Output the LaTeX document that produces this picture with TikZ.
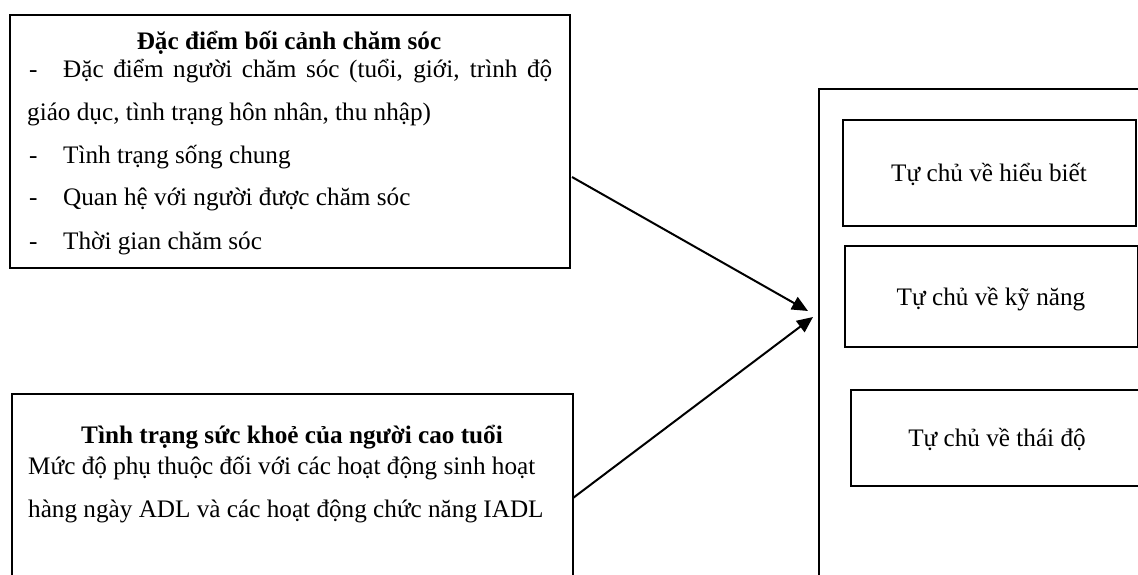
\documentclass[tikz,border=0pt]{standalone}
\usepackage{fontspec}
\setmainfont{Liberation Serif}
\usetikzlibrary{arrows.meta,calc}
\begin{document}
\begin{tikzpicture}[x=1pt,y=-1pt,
  frame/.style={draw, line width=2pt, rectangle, inner sep=0pt, anchor=north west},
  txt/.style={inner sep=0pt, font=\fontsize{25.2}{29}\selectfont},
  head/.style={txt, anchor=base, font=\fontsize{25.2}{29}\selectfont\bfseries},
  flow/.style={line width=2pt, -{Triangle[length=16pt,width=14pt]}}]
\useasboundingbox (0,0) rectangle (1138,574);

% left-hand boxes
\node[frame, minimum width=560pt, minimum height=253pt] (ctx) at (9,14) {};
\node[frame, minimum width=561pt, minimum height=200pt] (hlth) at (11,393) {};

% right-hand container and its three items
\node[frame, minimum width=340pt, minimum height=510pt] (auto) at (818,88) {};
\node[frame, minimum width=293pt, minimum height=106pt] (know) at (842,119) {};
\node[frame, minimum width=293pt, minimum height=101pt] (skill) at (844,245) {};
\node[frame, minimum width=300pt, minimum height=96pt] (att) at (850,389) {};

% text of the context box
\node[head] (ctxT) at (289,49) {Đặc điểm bối cảnh chăm sóc};
\node[txt, anchor=base west] (d1) at (29,77) {-};
\node[txt, anchor=base west] (l1) at (63,77) {\makebox[489pt][s]{Đặc điểm người chăm sóc (tuổi, giới, trình độ}};
\node[txt, anchor=base west] (l2) at (27,120) {giáo dục, tình trạng hôn nhân, thu nhập)};
\node[txt, anchor=base west] (d3) at (29,163) {-};
\node[txt, anchor=base west] (l3) at (63,163) {Tình trạng sống chung};
\node[txt, anchor=base west] (d4) at (29,205) {-};
\node[txt, anchor=base west] (l4) at (63,205) {Quan hệ với người được chăm sóc};
\node[txt, anchor=base west] (d5) at (29,249) {-};
\node[txt, anchor=base west] (l5) at (63,249) {Thời gian chăm sóc};

% text of the health box
\node[head] (hlthT) at (292,443) {Tình trạng sức khoẻ của người cao tuổi};
\node[txt, anchor=base west] (h1) at (28,474) {Mức độ phụ thuộc đối với các hoạt động sinh hoạt};
\node[txt, anchor=base west] (h2) at (28,517) {hàng ngày ADL và các hoạt động chức năng IADL};

% item labels
\node[txt, anchor=base] (knowT) at (989,181) {Tự chủ về hiểu biết};
\node[txt, anchor=base] (skillT) at (991,305) {Tự chủ về kỹ năng};
\node[txt, anchor=base] (attT) at (997,446) {Tự chủ về thái độ};

% connectors
\coordinate (s1) at (572,177);
\coordinate (e1) at (808,311);
\coordinate (s2) at (573,498);
\coordinate (e2) at (813,317);
\draw[flow] (s1) -- (e1);
\draw[flow] (s2) -- (e2);
\end{tikzpicture}
\end{document}
